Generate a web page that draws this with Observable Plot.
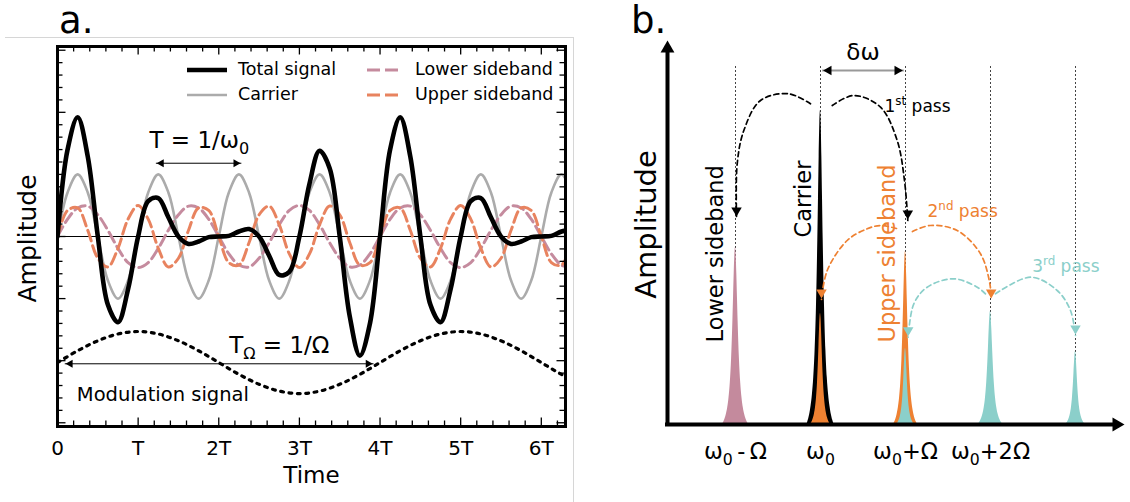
<!DOCTYPE html>
<html><head><meta charset="utf-8">
<script src="https://cdn.jsdelivr.net/npm/d3@7"></script>
<script src="https://cdn.jsdelivr.net/npm/@observablehq/plot@0.6"></script>
<style>
html,body{margin:0;padding:0;background:#fff;}
#fig{position:relative;width:1130px;height:502px;overflow:hidden;font-family:"DejaVu Sans",sans-serif;color:#000;}
.abs{position:absolute;}
.ptitle{position:absolute;font-size:37px;line-height:37px;}
.legtext{position:absolute;font-size:17.5px;line-height:20px;white-space:nowrap;}
</style></head>
<body><div id="fig">
<div class="abs" style="left:5px;top:37px;width:569px;height:1px;background:#d6d6d6"></div>
<div class="abs" style="left:573px;top:37px;width:1px;height:465px;background:#d6d6d6"></div>
</div>
<script>
// ================= Panel a : time domain (time in T, amplitude in carrier units) =================
const time = [0,0.125,0.25,0.375,0.5,0.625,0.75,0.875,
  1,1.125,1.25,1.375,1.5,1.625,1.75,1.875,
  2,2.125,2.25,2.375,2.5,2.625,2.75,2.875,
  3,3.125,3.25,3.375,3.5,3.625,3.75,3.875,
  4,4.125,4.25,4.375,4.5,4.625,4.75,4.875,
  5,5.125,5.25,5.375,5.5,5.625,5.75,5.875,
  6,6.125,6.25,6.375];
const carrier = [0,0.71,1,0.71,0,-0.71,-1,-0.71,
  0,0.71,1,0.71,0,-0.71,-1,-0.71,
  0,0.71,1,0.71,0,-0.71,-1,-0.71,
  0,0.71,1,0.71,0,-0.71,-1,-0.71,
  0,0.71,1,0.71,0,-0.71,-1,-0.71,
  0,0.71,1,0.71,0,-0.71,-1,-0.71,
  0,0.71,1,0.71];
const lowerSideband = [0,0.28,0.46,0.49,0.35,0.10,-0.19,-0.42,
  -0.50,-0.42,-0.19,0.10,0.35,0.49,0.46,0.28,
  0,-0.28,-0.46,-0.49,-0.35,-0.10,0.19,0.42,
  0.50,0.42,0.19,-0.10,-0.35,-0.49,-0.46,-0.28,
  0,0.28,0.46,0.49,0.35,0.10,-0.19,-0.42,
  -0.50,-0.42,-0.19,0.10,0.35,0.49,0.46,0.28,
  0,-0.28,-0.46,-0.49];
const upperSideband = [0,0.42,0.46,0.10,-0.35,-0.49,-0.19,0.28,
  0.50,0.28,-0.19,-0.49,-0.35,0.10,0.46,0.42,
  0,-0.42,-0.46,-0.10,0.35,0.49,0.19,-0.28,
  -0.50,-0.28,0.19,0.49,0.35,-0.10,-0.46,-0.42,
  0,0.42,0.46,0.10,-0.35,-0.49,-0.19,0.28,
  0.50,0.28,-0.19,-0.49,-0.35,0.10,0.46,0.42,
  0,-0.42,-0.46,-0.10];
const totalSignal = [0,1.40,1.92,1.29,0,-1.10,-1.38,-0.85,
  0,0.57,0.62,0.31,0,-0.12,-0.08,-0.01,
  0,0.01,0.08,0.12,0,-0.31,-0.62,-0.57,
  0,0.85,1.38,1.10,0,-1.29,-1.92,-1.40,
  0,1.40,1.92,1.29,0,-1.10,-1.38,-0.85,
  0,0.57,0.62,0.31,0,-0.12,-0.08,-0.01,
  0,0.01,0.08,0.12];
const modTime = [0,0.25,0.5,0.75,1,1.25,1.5,1.75,2,2.25,2.5,2.75,3,3.25,3.5,3.75,4,4.25,4.5,4.75,5,5.25,5.5,5.75,6,6.25,6.5];
const modulation = [-2.03,-1.84,-1.68,-1.57,-1.53,-1.57,-1.68,-1.84,-2.03,-2.22,-2.38,-2.49,-2.53,-2.49,-2.38,-2.22,-2.03,-1.84,-1.68,-1.57,-1.53,-1.57,-1.68,-1.84,-2.03,-2.22,-2.38];
const xTickValues = [0,1,2,3,4,5,6];
const xTickLabels = ["0","T","2T","3T","4T","5T","6T"];
const legendLabels = ["Total signal","Carrier","Lower sideband","Upper sideband"];
// period annotations: arrow tip times and level
const periodArrows = [{x1:1.22, x2:2.28, y:1.18}, {x1:0.09, x2:3.92, y:-2.05}];
const periodTexts = [{x:1.76, y:1.55, text:"T = 1/ω_0"}, {x:2.75, y:-1.76, text:"T_Ω = 1/Ω"}];
const modulationText = [{x:0.24, y:-2.55, text:"Modulation signal"}];

// ================= Panel b : spectrum (frequency in Ω from ω0) =================
const freqLines = [-1,0,1,2,3];
const freqLabelX = [-1,0,1,2];
const freqLabels = ["ω_0\u2009-\u2009Ω","ω_0","ω_0+Ω","ω_0+2Ω"];
const peakCenters = [-1,0,0,1,1,2,3];
const peakHeights = [1.77,3.14,1.11,1.73,0.76,1.13,0.73];
const peakHalfWidths = [0.153,0.159,0.118,0.141,0.106,0.147,0.118];
const peakGroup = ["lower","carrier","pass2","pass2","pass3","pass3","pass3"];
const profileU = [0,0.05,0.1,0.15,0.2,0.3,0.4,0.5,0.6,0.7,0.8,0.9,1];
const profileRel = [1,0.959,0.853,0.719,0.586,0.373,0.236,0.150,0.095,0.058,0.032,0.014,0];
const arcGroup = ["pass1","pass1","pass2","pass2","pass3","pass3"];
const arcPoints = [
  [[-0.118,3.207],[-0.373,3.307],[-0.706,3.24],[-0.902,2.94],[-0.98,2.607],[-0.988,2.07]],
  [[0.138,3.19],[0.392,3.29],[0.706,3.173],[0.902,2.84],[0.988,2.44],[1.027,2.04]],
  [[0.894,1.96],[0.706,1.99],[0.549,1.957],[0.314,1.84],[0.079,1.54],[0.012,1.25]],
  [[1.082,1.93],[1.29,1.99],[1.608,1.94],[1.882,1.707],[1.992,1.41],[2.008,1.25]],
  [[1.941,1.307],[1.844,1.373],[1.568,1.457],[1.255,1.373],[1.098,1.207],[1.032,0.873]],
  [[2.059,1.307],[2.471,1.473],[2.785,1.34],[2.941,1.14],[3.0,0.89]]
];
const passTexts = [{x:0.753, y:3.18, text:"1^{st} pass", g:"pass1"},{x:1.259, y:2.13, text:"2^{nd} pass", g:"pass2"},{x:2.49, y:1.58, text:"3^{rd} pass", g:"pass3"}];
const bandTexts = [{x:-1.235, y:0.82, text:"Lower sideband", g:"pass1"},{x:-0.2, y:1.87, text:"Carrier", g:"pass1"},{x:0.79, y:0.82, text:"Upper sideband", g:"pass2"}];
const deltaOmega = {x1:0.02, x2:0.98, y:3.54, text:"δω", ty:3.72};

// ================= styles =================
const font = "DejaVu Sans";
const colA = {total:"#000000", carrier:"#ababab", lower:"#c58b9e", upper:"#e8835f"};
const colB = {lower:"#c48a9d", carrier:"#000000", pass1:"#000000", pass2:"#ee8132", pass3:"#8bcfca"};

// ---------- Panel a ----------
const A = {width:575, height:502, mt:46, mr:10, mb:76, ml:57};
const fw = A.width - A.ml - A.mr, fh = A.height - A.mt - A.mb;
const rows = time.map((t,i)=>({t, carrier:carrier[i], lower:lowerSideband[i], upper:upperSideband[i], total:totalSignal[i]}));
const modRows = modTime.map((t,i)=>({t, v:modulation[i]}));
const notInt = v => Math.abs(v - Math.round(v)) > 1e-6;
const xMinor = d3.range(0.2, 6.3, 0.2).filter(notInt);
const yMajor = [-3,-2,-1,0,1,2,3];
const yMinor = d3.range(-3, 3.01, 0.2).filter(notInt);
const tk = {stroke:"black", strokeWidth:1.3};
const minL = 5.5, majL = 8.5;

const plotA = Plot.plot({
  width:A.width, height:A.height, marginTop:A.mt, marginRight:A.mr, marginBottom:A.mb, marginLeft:A.ml,
  x:{domain:[0,6.3], axis:null},
  y:{domain:[-3.06,3.06], axis:null},
  style:{fontFamily:font, color:"black", background:"transparent", overflow:"visible"},
  marks:[
    Plot.ruleY([0], {stroke:"black", strokeWidth:1}),
    Plot.line(rows, {x:"t", y:"carrier", stroke:colA.carrier, strokeWidth:2.6, curve:"catmull-rom", clip:true}),
    Plot.line(rows, {x:"t", y:"lower", stroke:colA.lower, strokeWidth:3, strokeDasharray:"11,5", curve:"catmull-rom", clip:true}),
    Plot.line(rows, {x:"t", y:"upper", stroke:colA.upper, strokeWidth:3, strokeDasharray:"11,5", curve:"catmull-rom", clip:true}),
    Plot.line(rows, {x:"t", y:"total", stroke:colA.total, strokeWidth:4.6, curve:"catmull-rom", clip:true}),
    Plot.line(modRows, {x:"t", y:"v", stroke:"black", strokeWidth:3.2, strokeDasharray:"2.8,5.6", curve:"catmull-rom", clip:true}),
    Plot.link(periodArrows, {x1:"x1", x2:"x2", y1:"y", y2:"y", stroke:"black", strokeWidth:1}),
    Plot.dot(periodArrows, {x:"x1", y:"y", symbol:"triangle2", r:3.9, rotate:-90, dx:5.5, fill:"black"}),
    Plot.dot(periodArrows, {x:"x2", y:"y", symbol:"triangle2", r:3.9, rotate:90, dx:-5.5, fill:"black"}),
    Plot.text(periodTexts, {x:"x", y:"y", text:"text", fontSize:23, fill:"black"}),
    Plot.text(modulationText, {x:"x", y:"y", text:"text", fontSize:19.5, textAnchor:"start", fill:"black"}),
    Plot.tickX(xMinor, {x:d=>d, insetTop:fh-minL, ...tk}),
    Plot.tickX(xMinor, {x:d=>d, insetBottom:fh-minL, ...tk}),
    Plot.tickX(xTickValues, {x:d=>d, insetTop:fh-majL, ...tk}),
    Plot.tickX(xTickValues, {x:d=>d, insetBottom:fh-majL, ...tk}),
    Plot.tickY(yMinor, {y:d=>d, insetRight:fw-minL, ...tk}),
    Plot.tickY(yMinor, {y:d=>d, insetLeft:fw-minL, ...tk}),
    Plot.tickY(yMajor, {y:d=>d, insetRight:fw-majL, ...tk}),
    Plot.tickY(yMajor, {y:d=>d, insetLeft:fw-majL, ...tk}),
    Plot.frame({stroke:"black", strokeWidth:3}),
    Plot.text(xTickLabels, {x:(d,i)=>xTickValues[i], text:d=>d, frameAnchor:"bottom", lineAnchor:"middle", textAnchor:"middle", dy:22, fontSize:20, fill:"black"}),
    Plot.text(["Time"], {text:d=>d, frameAnchor:"bottom", lineAnchor:"middle", textAnchor:"middle", dy:49, fontSize:23, fill:"black"}),
    Plot.text(["Amplitude"], {text:d=>d, frameAnchor:"left", lineAnchor:"middle", textAnchor:"middle", dx:-30, dy:2, rotate:-90, fontSize:25, fill:"black"})
  ]
});

// ---------- Panel b ----------
const B = {width:555, height:502, mt:38, mr:4, mb:78, ml:92};
const xDomB = [-1.8, 3.6], yDomB = [0, 3.86];
const peakMarks = peakCenters.map((c,i)=>{
  const pts = [];
  for (let j = profileU.length-1; j >= 0; j--) pts.push({x:c - profileU[j]*peakHalfWidths[i], y:peakHeights[i]*profileRel[j]});
  for (let j = 1; j < profileU.length; j++) pts.push({x:c + profileU[j]*peakHalfWidths[i], y:peakHeights[i]*profileRel[j]});
  return Plot.areaY(pts, {x:"x", y:"y", fill:colB[peakGroup[i]], curve:"monotone-x"});
});
const arcMarks = arcPoints.flatMap((pts,i)=>{
  const d = pts.map(([x,y])=>({x,y}));
  const tip = d[d.length-1];
  return [
    Plot.line(d, {x:"x", y:"y", stroke:colB[arcGroup[i]], strokeWidth:1.7, strokeDasharray:"5,3.5", curve:"catmull-rom"}),
    Plot.dot([tip], {x:"x", y:"y", symbol:"triangle2", r:5, rotate:180, dy:-7, fill:colB[arcGroup[i]]})
  ];
});
const plotB = Plot.plot({
  width:B.width, height:B.height, marginTop:B.mt, marginRight:B.mr, marginBottom:B.mb, marginLeft:B.ml,
  x:{domain:xDomB, axis:null},
  y:{domain:yDomB, axis:null},
  style:{fontFamily:font, color:"black", background:"transparent", overflow:"visible"},
  marks:[
    Plot.ruleX(freqLines, {x:d=>d, y1:0, y2:3.6, stroke:"#444", strokeWidth:1, strokeDasharray:"2,2"}),
    ...peakMarks,
    Plot.ruleX([xDomB[0]], {x:d=>d, insetTop:10, stroke:"black", strokeWidth:4, strokeLinecap:"square"}),
    Plot.ruleY([yDomB[0]], {y:d=>d, insetRight:10, stroke:"black", strokeWidth:4, strokeLinecap:"square"}),
    Plot.dot([{x:xDomB[0], y:yDomB[1]}], {x:"x", y:"y", symbol:"triangle2", r:6.6, dy:10, fill:"black"}),
    Plot.dot([{x:xDomB[1], y:yDomB[0]}], {x:"x", y:"y", symbol:"triangle2", r:6.6, rotate:90, dx:-10, fill:"black"}),
    Plot.link([deltaOmega], {x1:"x1", x2:"x2", y1:"y", y2:"y", stroke:"#999", strokeWidth:1.8}),
    Plot.dot([deltaOmega], {x:"x1", y:"y", symbol:"triangle2", r:4.6, rotate:-90, dx:6.5, fill:"black"}),
    Plot.dot([deltaOmega], {x:"x2", y:"y", symbol:"triangle2", r:4.6, rotate:90, dx:-6.5, fill:"black"}),
    Plot.text([deltaOmega], {x:d=>(d.x1+d.x2)/2, y:"ty", text:"text", fontSize:23, fill:"black"}),
    ...arcMarks,
    Plot.text(passTexts, {x:"x", y:"y", text:"text", textAnchor:"start", fontSize:17, fill:d=>colB[d.g]}),
    Plot.text(bandTexts, {x:"x", y:"y", text:"text", textAnchor:"start", rotate:-90, fontSize:22.5, fill:d=>colB[d.g]}),
    Plot.text(freqLabels, {x:(d,i)=>freqLabelX[i], text:d=>d, frameAnchor:"bottom", lineAnchor:"middle", textAnchor:"middle", dy:27, fontSize:22.5, fill:"black"}),
    Plot.text(["Amplitude"], {text:d=>d, frameAnchor:"left", lineAnchor:"middle", textAnchor:"middle", dx:-21, dy:-7, rotate:-90, fontSize:29, fill:"black"})
  ]
});

// ---------- assemble ----------
const fig = document.getElementById("fig");
function place(el, left, top){ const w = document.createElement("div"); w.className="abs"; w.style.left=left+"px"; w.style.top=top+"px"; w.appendChild(el); fig.appendChild(w); return w; }
place(plotA, 0, 0);
place(plotB, 575, 0);

// panel titles
[["a.",59],["b.",631]].forEach(([t,l])=>{ const d=document.createElement("div"); d.className="ptitle"; d.style.left=l+"px"; d.style.top="2px"; d.textContent=t; fig.appendChild(d); });

// legend (panel a)
const legendStyle = [
  {stroke:colA.total, width:4.6, dash:null},
  {stroke:colA.carrier, width:2.6, dash:null},
  {stroke:colA.lower, width:3, dash:"13,5"},
  {stroke:colA.upper, width:3, dash:"13,5"}
];
const legendLayout = [{sx:187, sw:40, tx:238, cy:70},{sx:187, sw:40, tx:238, cy:95},{sx:367, sw:31, tx:415, cy:70},{sx:367, sw:31, tx:415, cy:95}];
const NS = "http://www.w3.org/2000/svg";
legendLabels.forEach((lab,i)=>{
  const L = legendLayout[i], S = legendStyle[i];
  const svg = document.createElementNS(NS,"svg");
  svg.setAttribute("width", L.sw); svg.setAttribute("height", 10);
  svg.style.position="absolute"; svg.style.left=L.sx+"px"; svg.style.top=(L.cy-5)+"px";
  const ln = document.createElementNS(NS,"line");
  ln.setAttribute("x1",0); ln.setAttribute("x2",L.sw); ln.setAttribute("y1",5); ln.setAttribute("y2",5);
  ln.setAttribute("stroke",S.stroke); ln.setAttribute("stroke-width",S.width);
  if (S.dash) ln.setAttribute("stroke-dasharray",S.dash);
  svg.appendChild(ln); fig.appendChild(svg);
  const t = document.createElement("div"); t.className="legtext"; t.style.left=L.tx+"px"; t.style.top=(L.cy-11)+"px"; t.textContent=lab; fig.appendChild(t);
});

// sub/superscripts: "_x", "_{..}", "^{..}"
function richify(root){
  root.querySelectorAll("text").forEach(t=>{
    const s = t.textContent;
    if (!/[_^]/.test(s)) return;
    const fs = parseFloat(getComputedStyle(t).fontSize) || 16;
    const parts = []; let buf = ""; let i = 0;
    while (i < s.length) {
      const c = s[i];
      if (c === "_" || c === "^") {
        if (buf) { parts.push({t:buf, k:0}); buf = ""; }
        let content;
        if (s[i+1] === "{") { const j = s.indexOf("}", i); content = s.slice(i+2, j); i = j+1; }
        else { content = s[i+1]; i += 2; }
        parts.push({t:content, k: c === "_" ? 1 : -1});
      } else { buf += c; i++; }
    }
    if (buf) parts.push({t:buf, k:0});
    while (t.firstChild) t.removeChild(t.firstChild);
    let cur = 0;
    parts.forEach((p, idx)=>{
      const ts = document.createElementNS(NS, "tspan");
      const target = p.k === 1 ? 0.26*fs : p.k === -1 ? -0.38*fs : 0;
      if (idx > 0 || target !== 0) ts.setAttribute("dy", (target - cur).toFixed(2));
      cur = target;
      if (p.k) ts.setAttribute("font-size", (0.7*fs).toFixed(1));
      ts.textContent = p.t;
      t.appendChild(ts);
    });
  });
}
richify(plotA); richify(plotB);
</script></body></html>
